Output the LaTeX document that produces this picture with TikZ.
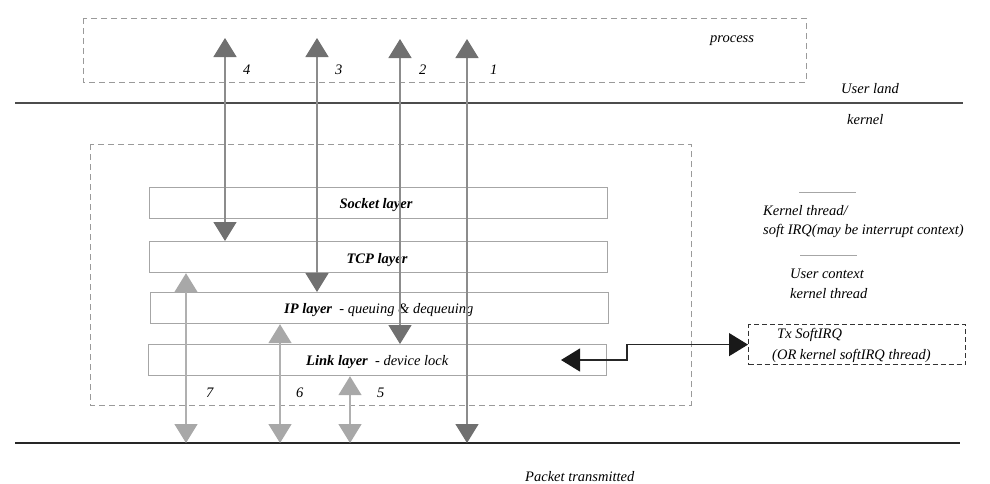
\documentclass[tikz,border=0pt]{standalone}
\usepackage{fontspec}
\setmainfont{Liberation Serif}
\usetikzlibrary{arrows.meta}
\definecolor{headdark}{HTML}{707070}
\definecolor{linedark}{HTML}{8C8C8C}
\definecolor{headlight}{HTML}{A8A8A8}
\definecolor{linelight}{HTML}{B0B0B0}
\definecolor{boxgray}{HTML}{A6A6A6}
\definecolor{dashgray}{HTML}{9A9A9A}
\tikzset{
  txt/.style={inner sep=0pt, anchor=base west, font=\fontsize{14.5}{18}\selectfont\itshape},
  layer/.style={draw=boxgray, line width=1.2pt, minimum width=458pt, minimum height=31pt, inner sep=0pt, anchor=north west},
  dashbox/.style={draw=dashgray, line width=1pt, dash pattern=on 6pt off 4pt},
  darkarrow/.style={draw=linedark, line width=1.5pt, {Triangle[width=23pt,length=19pt,color=headdark]}-{Triangle[width=23pt,length=19pt,color=headdark]}},
  lightarrow/.style={draw=linelight, line width=1.5pt, {Triangle[width=23pt,length=19pt,color=headlight]}-{Triangle[width=23pt,length=19pt,color=headlight]}},
  blackarrow/.style={draw=black!85, line width=1.2pt, {Triangle[width=23pt,length=19pt,color=black!90]}-{Triangle[width=23pt,length=19pt,color=black!90]}},
  legline/.style={draw=boxgray, line width=1pt},
}
\begin{document}
\begin{tikzpicture}[x=1pt,y=-1pt]
\useasboundingbox (0,0) rectangle (990,483);
% process box
\draw[dashbox] (83,18) rectangle (806,82);
\node[txt] (proc) at (710,42) {process};
% user land line
\coordinate (ul1) at (15,103);
\coordinate (ul2) at (963,103);
\draw[draw=black!70, line width=1.5pt] (ul1) -- (ul2);
\node[txt] (uland) at (841,93) {User land};
\node[txt] (kern) at (847,124) {kernel};
% kernel box
\draw[dashbox] (90,144) rectangle (691,405);
% layers
\node[layer] (sock) at (149,187) {};
\node[layer] (tcp) at (149,241) {};
\node[layer] (ip) at (150,292) {};
\node[layer] (link) at (148,344) {};
\node[inner sep=0pt, anchor=base, font=\fontsize{14.5}{18}\selectfont\bfseries\itshape] (socktxt) at (376,208) {Socket layer};
\node[inner sep=0pt, anchor=base, font=\fontsize{14.5}{18}\selectfont\bfseries\itshape] (tcptxt) at (377,263) {TCP layer};
\node[txt] (iptxt) at (284,313) {\bfseries IP layer\mdseries\ \ - queuing \& dequeuing};
\node[txt] (linktxt) at (306,365) {\bfseries Link layer\mdseries\ \ - device lock};
% bottom line
\coordinate (bl1) at (15,443);
\coordinate (bl2) at (960,443);
\draw[draw=black!85, line width=1.5pt] (bl1) -- (bl2);
\node[txt] (pkt) at (525,481) {Packet transmitted};
% upper arrows
\coordinate (a4) at (225,38);
\coordinate (a3) at (317,38);
\coordinate (a2) at (400,39);
\coordinate (a1) at (467,39);
\draw[darkarrow] (a4) -- (a4 |- tcp.north);
\draw[darkarrow] (a3) -- (a3 |- ip.north);
\draw[darkarrow] (a2) -- (a2 |- link.north);
\draw[darkarrow] (a1) -- (a1 |- bl1);
\node[txt] (n4) at (243,74) {4};
\node[txt] (n3) at (335,74) {3};
\node[txt] (n2) at (419,74) {2};
\node[txt] (n1) at (490,74) {1};
% lower arrows
\coordinate (a7) at (186,0);
\coordinate (a6) at (280,0);
\coordinate (a5) at (350,0);
\draw[lightarrow] (a7 |- tcp.south) -- (a7 |- bl1);
\draw[lightarrow] (a6 |- ip.south) -- (a6 |- bl1);
\draw[lightarrow] (a5 |- link.south) -- (a5 |- bl1);
\node[txt] (n7) at (206,397) {7};
\node[txt] (n6) at (296,397) {6};
\node[txt] (n5) at (377,397) {5};
% legend
\coordinate (lg1a) at (799,192);
\coordinate (lg1b) at (856,192);
\draw[legline] (lg1a) -- (lg1b);
\node[txt] (kt1) at (763,215) {Kernel thread/};
\node[txt] (kt2) at (763,234) {soft IRQ(may be interrupt context)};
\coordinate (lg2a) at (800,255);
\coordinate (lg2b) at (857,255);
\draw[legline] (lg2a) -- (lg2b);
\node[txt] (uc1) at (790,278) {User context};
\node[txt] (uc2) at (790,298) {kernel thread};
% Tx softirq box
\node[draw=black!80, line width=1.2pt, dash pattern=on 5pt off 3pt, minimum width=217pt, minimum height=40pt, inner sep=0pt, anchor=north west] (tx) at (748,324) {};
\node[txt] (tx1) at (777,338) {Tx SoftIRQ};
\node[txt] (tx2) at (772,359) {(OR kernel softIRQ thread)};
% black double arrow
\coordinate (lk) at (561,360);
\draw[blackarrow] (lk) -- (627,360) |- (tx.west);
\end{tikzpicture}
\end{document}
